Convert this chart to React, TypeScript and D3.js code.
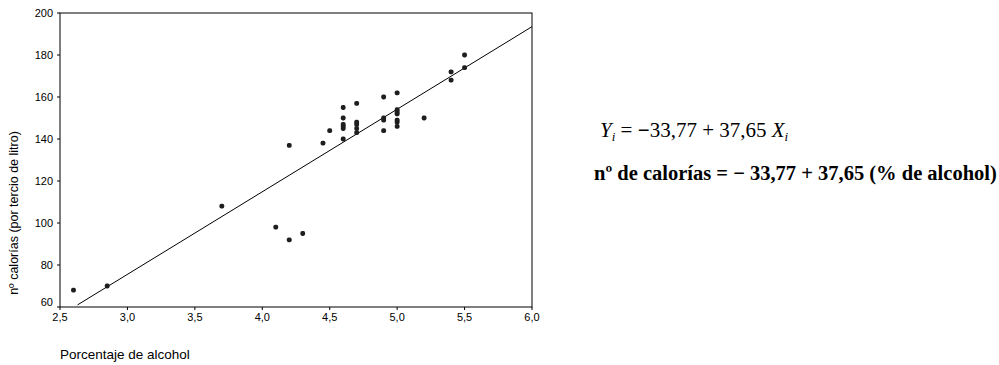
import React from "react";
import * as d3 from "d3";

// % alcohol vs calories per third of a litre
const alcohol = [
  2.6, 2.85, 3.7, 4.1, 4.2, 4.3, 4.2, 4.45, 4.5,
  4.6, 4.6, 4.6, 4.6, 4.6, 4.6,
  4.7, 4.7, 4.7, 4.7, 4.7,
  4.9, 4.9, 4.9, 4.9,
  5.0, 5.0, 5.0, 5.0, 5.0, 5.0, 5.0,
  5.2, 5.4, 5.4, 5.5, 5.5,
];
const calories = [
  68, 70, 108, 98, 92, 95, 137, 138, 144,
  155, 150, 147, 146, 145, 140,
  157, 148, 147, 145, 143,
  160, 150, 149, 144,
  162, 154, 153, 152, 149, 148, 146,
  150, 172, 168, 180, 174,
];

// fitted line as drawn (endpoints)
const fitX = [2.63, 6.0];
const fitY = [61, 193.5];

const xTicks = [2.5, 3.0, 3.5, 4.0, 4.5, 5.0, 5.5, 6.0];
const yTicks = [60, 80, 100, 120, 140, 160, 180, 200];

const W = 999;
const H = 365;
const margin = { top: 13, right: 467, bottom: 58, left: 60 };

const fmt = (v: number) => d3.format(".1f")(v).replace(".", ",");
const serif = "Liberation Serif, Times New Roman, serif";

export default function App() {
  const innerW = W - margin.left - margin.right;
  const innerH = H - margin.top - margin.bottom;

  const x = d3.scaleLinear().domain([2.5, 6.0]).range([0, innerW]);
  const y = d3.scaleLinear().domain([60, 200]).range([innerH, 0]);

  const line = d3
    .line<number>()
    .x((d) => x(d))
    .y((_, i) => y(fitY[i]));

  return (
    <svg
      width={W}
      height={H}
      style={{ position: "absolute", left: 0, top: 0, background: "#fff" }}
      fontFamily="Liberation Sans, Arial, sans-serif"
    >
      <g transform={`translate(${margin.left},${margin.top})`}>
        <rect width={innerW} height={innerH} fill="none" stroke="#000" strokeWidth={1} />

        {yTicks.map((t) => (
          <g key={t} transform={`translate(0,${y(t)})`}>
            <line x1={-3} x2={0} stroke="#000" />
            <text x={-7} dy={t === 60 ? "-0.05em" : "0.35em"} textAnchor="end" fontSize={11}>
              {t}
            </text>
          </g>
        ))}

        {xTicks.map((t) => (
          <g key={t} transform={`translate(${x(t)},${innerH})`}>
            <line y1={0} y2={3} stroke="#000" />
            <text y={14} textAnchor="middle" fontSize={11}>
              {fmt(t)}
            </text>
          </g>
        ))}

        <path d={line(fitX) || ""} fill="none" stroke="#000" strokeWidth={1} />

        {alcohol.map((a, i) => (
          <rect
            key={i}
            x={x(a) - 2.4}
            y={y(calories[i]) - 2.4}
            width={4.8}
            height={4.8}
            rx={1.8}
            fill="#1e1e1e"
          />
        ))}
      </g>

      <text
        transform="translate(18,213) rotate(-90)"
        textAnchor="middle"
        fontSize={12.5}
      >
        nº calorías (por tercio de litro)
      </text>
      <text x={margin.left} y={359} fontSize={13.5}>
        Porcentaje de alcohol
      </text>

      <text x={600} y={137} fontFamily={serif} fontSize={21}>
        <tspan fontStyle="italic">Y</tspan>
        <tspan fontStyle="italic" fontSize={13} dy={4}>i</tspan>
        <tspan dy={-4}> = </tspan>
        <tspan fontWeight="bold">−</tspan>
        <tspan>33,77 + 37,65 </tspan>
        <tspan fontStyle="italic">X</tspan>
        <tspan fontStyle="italic" fontSize={13} dy={4}>i</tspan>
      </text>
      <text x={594} y={180} fontFamily={serif} fontSize={20.5} fontWeight="bold">
        nº de calorías = − 33,77 + 37,65 (% de alcohol)
      </text>
    </svg>
  );
}
